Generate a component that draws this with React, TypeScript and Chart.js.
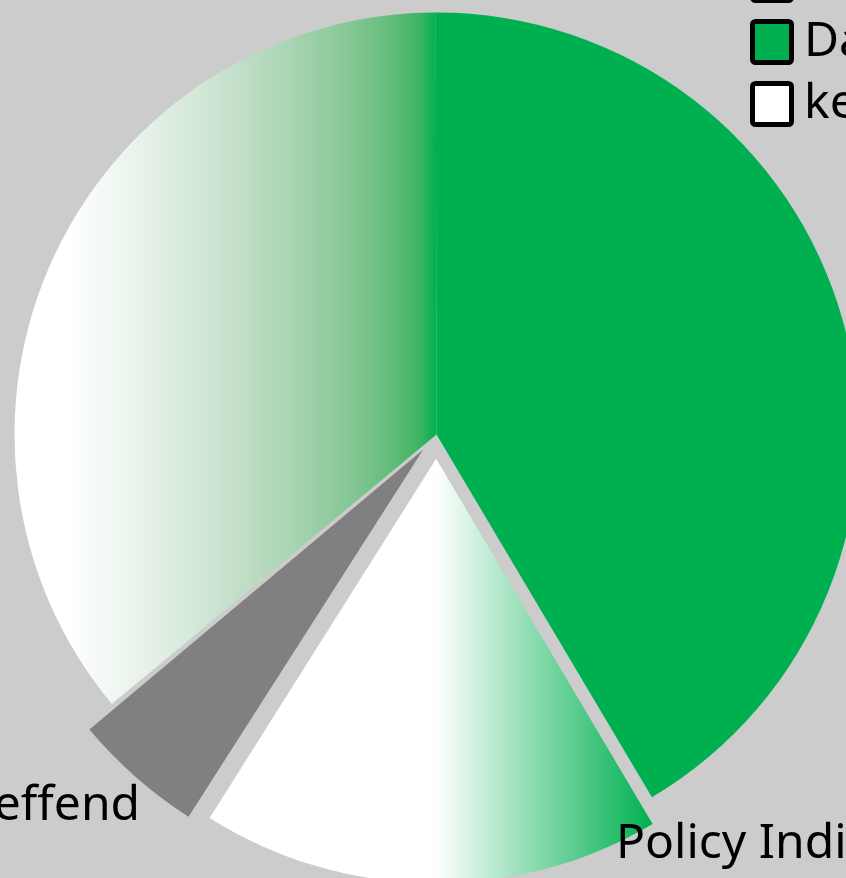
import React, { useEffect, useRef } from "react";
import { Chart, registerables } from "chart.js";

Chart.register(...registerables);

// ---- data ----
const categories = ["Nicht zutreffend", "Dafür", "Dagegen", "keine Angabe"];
const shares = [5, 36, 41.5, 17.5];
const captions = ["Nicht zutreffend", "", "", "Policy Indicator"];
const swatchColors = ["#808080", "#ffffff", "#00b050", "#ffffff"];
const explode = [80, 0, 0, 97];

// ---- style ----
const GREEN = "#00b050";
const GREEN_RGB = [0, 176, 80];
const GRAY = "#808080";
const START_ANGLE = 212.3;
const RADIUS = 422;
const FONT = '"Noto Sans", "Open Sans", sans-serif';

const toLin = (v: number) => {
  const c = v / 255;
  return c <= 0.04045 ? c / 12.92 : Math.pow((c + 0.055) / 1.055, 2.4);
};
const toSrgb = (l: number) => {
  const c = l <= 0.0031308 ? l * 12.92 : 1.055 * Math.pow(l, 1 / 2.4) - 0.055;
  return Math.round(Math.max(0, Math.min(1, c)) * 255);
};

function fillFor(chart: any, i: number) {
  const ctx = chart.ctx as CanvasRenderingContext2D;
  const area = chart.chartArea;
  if (!area) return GRAY;
  const cx = (area.left + area.right) / 2;
  if (i === 0) return GRAY;
  if (i === 2) return GREEN;
  if (i === 1) {
    const g = ctx.createLinearGradient(cx - RADIUS * 0.87, 0, cx, 0);
    for (let k = 0; k <= 24; k++) {
      const t = k / 24;
      const rgb = GREEN_RGB.map((c) => toSrgb(toLin(255) * (1 - t) + toLin(c) * t));
      g.addColorStop(t, `rgb(${rgb[0]},${rgb[1]},${rgb[2]})`);
    }
    return g;
  }
  // white slice: gradient from centre line to the slice's right extreme
  const before = shares.slice(0, i).reduce((a, b) => a + b, 0);
  const total = shares.reduce((a, b) => a + b, 0);
  const startDeg = START_ANGLE + (before / total) * 360;
  const xr = cx + RADIUS * Math.sin((startDeg * Math.PI) / 180);
  const g = ctx.createLinearGradient(cx, 0, xr, 0);
  g.addColorStop(0, "#ffffff");
  g.addColorStop(1, GREEN);
  return g;
}

function makeSwatch(fill: string) {
  const c = document.createElement("canvas");
  c.width = 44;
  c.height = 46;
  const g = c.getContext("2d")!;
  g.fillStyle = fill;
  g.strokeStyle = "#000";
  g.lineWidth = 5;
  g.beginPath();
  if ((g as any).roundRect) (g as any).roundRect(2.5, 2.5, 39, 41, 3);
  else g.rect(2.5, 2.5, 39, 41);
  g.fill();
  g.stroke();
  return c;
}

const CAPTION_PLACE: Record<number, { frac: number; gap: number; align: CanvasTextAlign }> = {
  0: { frac: 0.353, gap: 17.6, align: "right" },
  3: { frac: 0.088, gap: -1.75, align: "left" },
};

const captionPlugin = {
  id: "captions",
  afterDatasetsDraw(chart: any) {
    const meta = chart.getDatasetMeta(0);
    const ctx = chart.ctx as CanvasRenderingContext2D;
    ctx.save();
    ctx.font = `48px ${FONT}`;
    ctx.fillStyle = "#000";
    ctx.textBaseline = "middle";
    meta.data.forEach((arc: any, i: number) => {
      const text = captions[i];
      const place = CAPTION_PLACE[i];
      if (!text || !place) return;
      const { x, y, startAngle, endAngle, outerRadius } = arc.getProps(
        ["x", "y", "startAngle", "endAngle", "outerRadius"],
        true
      );
      const off = (arc.options.offset || 0) / 4;
      const circ = endAngle - startAngle;
      const fix = 1 - Math.sin(Math.min(Math.PI, circ));
      const half = (startAngle + endAngle) / 2;
      const ax = x + Math.cos(half) * off;
      const ay = y + Math.sin(half) * off;
      const a = startAngle + place.frac * circ;
      const r = outerRadius + off * fix + place.gap;
      ctx.textAlign = place.align;
      ctx.fillText(text, ax + Math.cos(a) * r, ay + Math.sin(a) * r + 3);
    });
    ctx.restore();
  },
};

export default function App() {
  const ref = useRef<HTMLCanvasElement>(null);

  useEffect(() => {
    document.body.style.margin = "0";
    const swatches = swatchColors.map(makeSwatch);
    const chart = new Chart(ref.current!, {
      type: "pie",
      data: {
        labels: categories,
        datasets: [
          {
            data: shares,
            backgroundColor: (c: any) => fillFor(c.chart, c.dataIndex ?? 0),
            borderWidth: 0,
            offset: explode,
            radius: RADIUS,
            rotation: START_ANGLE,
            clip: false,
          } as any,
        ],
      },
      options: {
        animation: false,
        responsive: false,
        devicePixelRatio: 1,
        layout: { padding: { left: 123, top: 0, right: 0, bottom: 1 } },
        plugins: {
          tooltip: { enabled: false },
          legend: {
            display: true,
            position: "right",
            align: "start",
            maxWidth: 300,
            labels: {
              usePointStyle: true,
              pointStyleWidth: 16,
              padding: 14,
              color: "#000",
              font: { family: FONT, size: 48 },
              generateLabels: () =>
                categories.map((t, i) => ({
                  text: t,
                  fillStyle: swatchColors[i],
                  strokeStyle: "#000",
                  lineWidth: 5,
                  pointStyle: swatches[i] as any,
                  hidden: false,
                  index: i,
                  datasetIndex: 0,
                })),
            },
          },
        },
      } as any,
      plugins: [captionPlugin],
    });
    return () => chart.destroy();
  }, []);

  return (
    <div
      style={{
        position: "fixed",
        left: 0,
        top: 0,
        width: 846,
        height: 878,
        overflow: "hidden",
        background: "#cccccc",
      }}
    >
      <canvas
        ref={ref}
        width={1050}
        height={1110}
        style={{ position: "absolute", left: 0, top: -120, width: 1050, height: 1110 }}
      />
    </div>
  );
}
